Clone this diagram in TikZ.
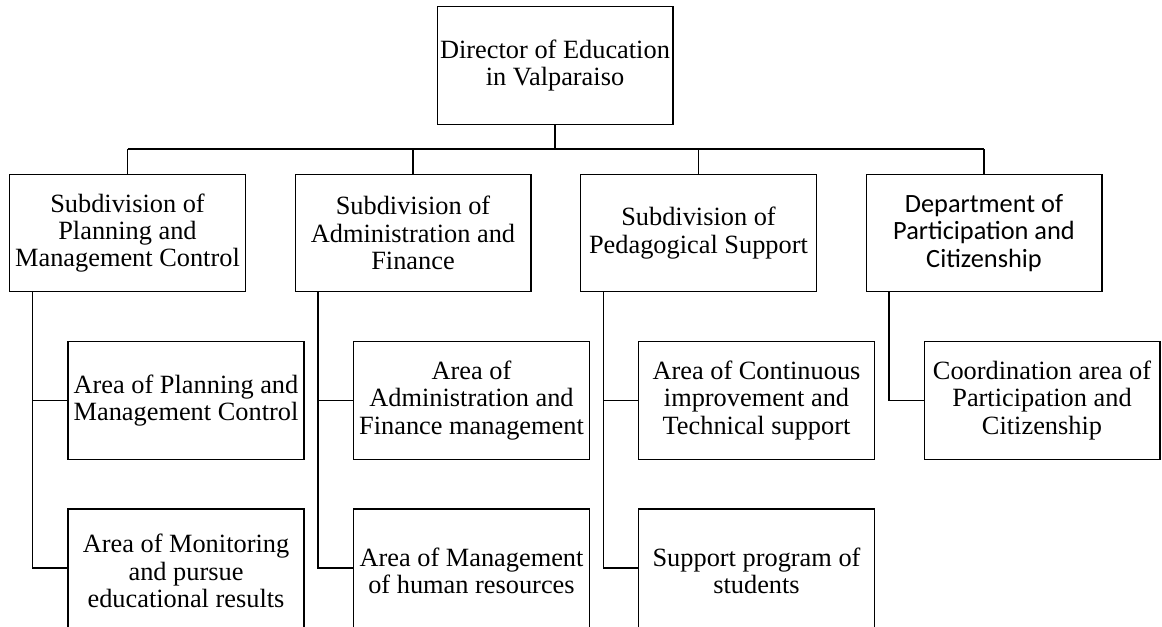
\documentclass[tikz,border=0pt]{standalone}
\usepackage{fontspec}
\setmainfont{Liberation Serif}
\newfontfamily\calibri{Carlito}
\usepackage{tikz}
\usetikzlibrary{calc}
\usetikzlibrary{positioning}

\begin{document}
\begin{tikzpicture}[x=0.02cm, y=-0.02cm,
    box/.style={draw, line width=0.6pt, align=center, inner sep=1pt,
      minimum width=4.72cm, minimum height=2.35cm,
      font=\fontsize{15}{15.6}\selectfont},
    lowbox/.style={box, minimum height=2.48cm},
    link/.style={line width=0.6pt}]

      \clip (0, 0) rectangle (1162, 626);

      \node [box] (dir) at (555, 65.5) {Director of Education\\in Valparaiso};

      \node [box] (planning) at (127.5, 233) {Subdivision of\\Planning and\\Management Control};
      \node [box] (admin) at (413, 233) {Subdivision of\\Administration and\\Finance};
      \node [box] (pedag) at (698.5, 233) {Subdivision of\\Pedagogical Support};
      \node [box, font=\calibri\fontsize{15}{15.6}\selectfont] (partic) at (984, 233)
        {Department of\\Participation and\\Citizenship};

      \node [box] (planarea) at (186, 400.5) {Area of Planning and\\Management Control};
      \node [lowbox] (monitor) at (186, 571) {Area of Monitoring\\and pursue\\educational results};
      \node [box] (adminarea) at (471.5, 400.5) {Area of\\Administration and\\Finance management};
      \node [lowbox] (human) at (471.5, 571) {Area of Management\\of human resources};
      \node [box] (improve) at (756.5, 400.5) {Area of Continuous\\improvement and\\Technical support};
      \node [lowbox] (students) at (756.5, 571) {Support program of\\students};
      \node [box] (coord) at (1042, 400.5) {Coordination area of\\Participation and\\Citizenship};

      % bus under the director
      \coordinate (bus) at (0, 149);
      \draw [link] (dir.south) -- (dir.south |- bus);
      \draw [link] (planning.north |- bus) -- (partic.north |- bus);
      \draw [link] (planning.north) -- (planning.north |- bus);
      \draw [link] (admin.north) -- (admin.north |- bus);
      \draw [link] (pedag.north) -- (pedag.north |- bus);
      \draw [link] (partic.north) -- (partic.north |- bus);

      % trunks down the left of each subdivision
      \coordinate (trunkA) at ($(planning.south west)+(23.5, 0)$);
      \coordinate (trunkB) at ($(admin.south west)+(23.5, 0)$);
      \coordinate (trunkC) at ($(pedag.south west)+(23.5, 0)$);
      \coordinate (trunkD) at ($(partic.south west)+(23.5, 0)$);
      \draw [link] (trunkA) |- (planarea.west);
      \draw [link] (trunkA) |- ($(monitor.west)+(0, -3)$);
      \draw [link] (trunkB) |- (adminarea.west);
      \draw [link] (trunkB) |- ($(human.west)+(0, -3)$);
      \draw [link] (trunkC) |- (improve.west);
      \draw [link] (trunkC) |- ($(students.west)+(0, -3)$);
      \draw [link] (trunkD) |- (coord.west);

    \end{tikzpicture}
\end{document}
